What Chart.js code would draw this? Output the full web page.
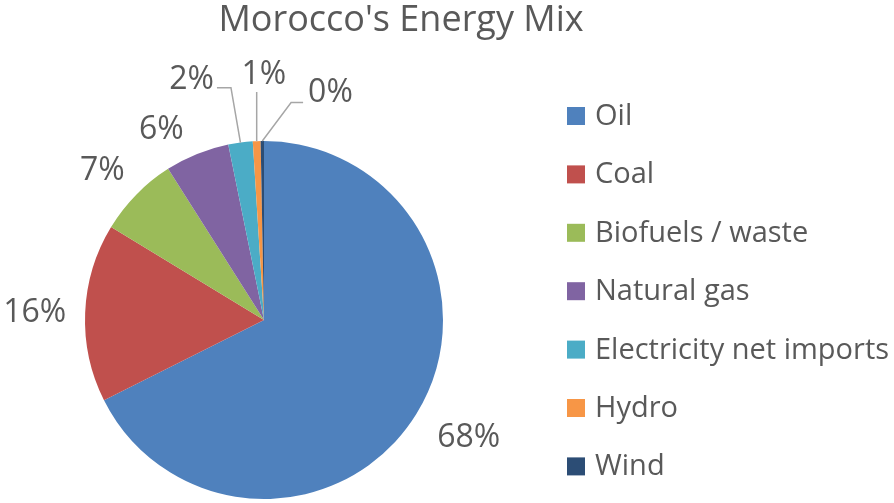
<!DOCTYPE html>
<html>
<head>
<meta charset="utf-8">
<title>Morocco's Energy Mix</title>
<script src="https://cdn.jsdelivr.net/npm/chart.js"></script>
<style>
  html, body { margin: 0; padding: 0; background: #fff; }
  #wrap { width: 894px; height: 503px; position: relative; }
</style>
</head>
<body>
<div id="wrap"><canvas id="chart"></canvas></div>
<script>
let sources = ['Oil', 'Coal', 'Biofuels / waste', 'Natural gas', 'Electricity net imports', 'Hydro', 'Wind'];
let shares = [67.6, 16.1, 7.3, 5.8, 2.2, 0.7, 0.3];
let colors = ['#4f81bd', '#c0504d', '#9bbb59', '#8064a2', '#4bacc6', '#f79646', '#2c4d75'];
let chartTitle = "Morocco's Energy Mix";

const textColor = '#595959';
const fontFamily = '"Open Sans", Lato, sans-serif';

// title, legend and the percentage labels are painted after the pie
let decorations = {
    id: 'decorations',
    afterDraw(chart, args, opts) {
        let ctx = chart.ctx;
        ctx.save();
        ctx.textBaseline = 'alphabetic';

        // title
        ctx.fillStyle = textColor;
        ctx.font = opts.titleSize + 'px ' + fontFamily;
        ctx.textAlign = 'center';
        ctx.fillText(chartTitle, opts.titleX, opts.titleY);

        // legend, one row per source
        ctx.font = opts.legendSize + 'px ' + fontFamily;
        ctx.textAlign = 'left';
        sources.forEach((name, i) => {
            let base = opts.legendTop + i * opts.legendStep;
            ctx.fillStyle = colors[i];
            ctx.fillRect(opts.legendX, base - opts.boxSize, opts.boxSize, opts.boxSize);
            ctx.fillStyle = textColor;
            ctx.fillText(name, opts.legendX + opts.boxSize + opts.boxGap, base);
        });

        // percentage labels outside each slice
        let total = shares.reduce((a, b) => a + b, 0);
        let meta = chart.getDatasetMeta(0);
        ctx.font = opts.labelSize + 'px ' + fontFamily;
        ctx.textAlign = 'center';
        meta.data.forEach((arc, i) => {
            let text = Math.round(shares[i] / total * 100) + '%';
            let tweak = opts.tweaks[i] || {};
            let mid = (arc.startAngle + arc.endAngle) / 2;
            let ang = mid + (tweak.turn || 0) * Math.PI / 180;
            let w = ctx.measureText(text).width;
            let h = opts.labelHeight;
            let dx = Math.cos(ang), dy = Math.sin(ang);
            let d = arc.outerRadius + (tweak.gap || opts.labelGap);
            let cx = arc.x + dx * d + dx * w / 2;
            let cy = arc.y + dy * d + dy * h / 2;
            ctx.fillStyle = textColor;
            ctx.fillText(text, cx, cy + h / 2);

            if (tweak.leader) {
                // leader line from the rim to the label
                let sx = arc.x + Math.cos(mid) * arc.outerRadius;
                let sy = arc.y + Math.sin(mid) * arc.outerRadius;
                ctx.strokeStyle = '#a6a6a6';
                ctx.lineWidth = 1.5;
                ctx.beginPath();
                ctx.moveTo(sx, sy);
                if (cx < sx - 20) {
                    let ey = cy + h / 2 - 1;
                    ctx.lineTo(cx + w / 2 + 17, ey);
                    ctx.lineTo(cx + w / 2 + 3, ey);
                } else if (cx > sx + 20) {
                    let ey = cy + h / 2 + 1;
                    ctx.lineTo(cx - w / 2 - 17, ey);
                    ctx.lineTo(cx - w / 2 - 5, ey);
                } else {
                    ctx.lineTo(sx, cy + h / 2 + 8);
                }
                ctx.stroke();
            }
        });
        ctx.restore();
    }
};

let ctx = document.getElementById('chart').getContext('2d');

let chart = new Chart(ctx, {
    type: 'pie',
    data: {
        labels: sources,
        datasets: [{
            data: shares,
            backgroundColor: colors,
            borderWidth: 0
        }]
    },
    options: {
        responsive: true,
        maintainAspectRatio: false,
        animation: false,
        layout: {
            padding: { left: 85, right: 451, top: 141, bottom: 4 }
        },
        plugins: {
            legend: { display: false },
            title: { display: false },
            tooltip: { enabled: false },
            decorations: {
                titleSize: 36, titleX: 401, titleY: 31,
                legendSize: 29, legendX: 567, legendTop: 125, legendStep: 58.4,
                boxSize: 18, boxGap: 10,
                labelSize: 32, labelHeight: 22, labelGap: 25,
                tweaks: {
                    0: { gap: 30 },
                    1: { gap: 19 },
                    3: { turn: -5 },
                    4: { turn: -8.4, gap: 62, leader: true },
                    5: { turn: 2.3, gap: 57, leader: true },
                    6: { turn: 16, gap: 48, leader: true }
                }
            }
        }
    },
    plugins: [decorations]
});
</script>
</body>
</html>
